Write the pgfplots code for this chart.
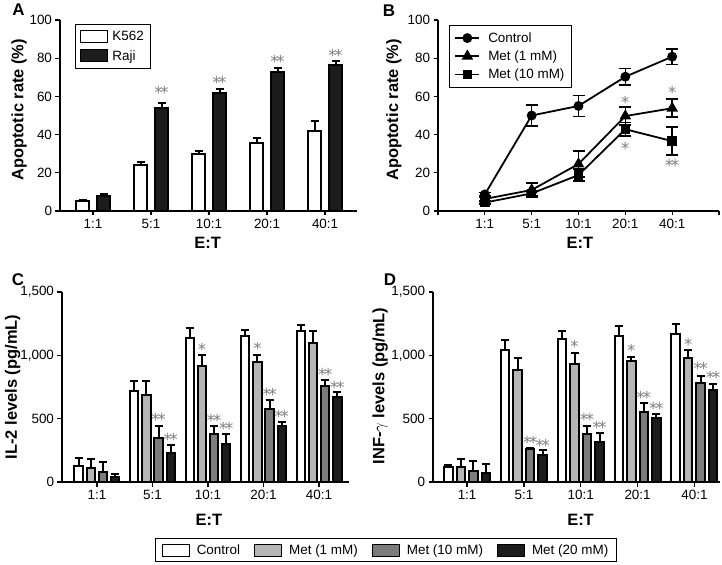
\documentclass[border=0pt]{standalone}
\usepackage{fontspec}
\setmainfont{Liberation Sans}
\newfontfamily\starfont{DejaVu Sans}
\usepackage{pgfplots}
\pgfplotsset{compat=1.18}

\definecolor{metA}{HTML}{B5B5B5}
\definecolor{metB}{HTML}{7C7C7C}
\definecolor{metC}{HTML}{1C1C1C}
\definecolor{stargray}{HTML}{7E7E7E}

\newcommand{\tk}{\fontsize{13.5}{16}\selectfont}
\newcommand{\lb}{\fontsize{16.5}{19}\selectfont\bfseries}
\newcommand{\dd}{*\kern-2.2bp*}

\pgfplotsset{
  panel/.style={
    scale only axis, clip=false,
    axis lines=left,
    axis line style={-, line width=1.5bp, black},
    tick align=outside,
    major tick length=4.5bp,
    tick style={black, line width=1.3bp},
    tick label style={font=\tk},
    /pgf/number format/assume math mode=true,
    label style={font=\lb},
  },
  barplot/.style={ybar, bar shift=0pt, draw=black, line width=2bp,
    error bars/y dir=plus, error bars/y explicit,
    error bars/error bar style={line width=2bp, black},
    error bars/error mark options={rotate=90, mark size=4bp, line width=2bp, black}},
  linplot/.style={black, line width=1.8bp,
    error bars/y dir=both, error bars/y explicit,
    error bars/error bar style={line width=1.6bp, black},
    error bars/error mark options={rotate=90, mark size=6bp, line width=1.6bp, black}},
  swatch/.style={legend image code/.code={\draw[##1, line width=1bp] (0bp,-6bp) rectangle (27bp,6bp);}},
  lineleg/.style={legend image code/.code={\draw[mark repeat=2,mark phase=2,##1] plot coordinates {(0bp,0bp) (12bp,0bp) (24bp,0bp)};}},
}
\tikzset{sig/.style={font=\starfont\fontsize{16.5}{17}\selectfont, text=stargray, anchor=base, yshift=-9bp, inner sep=0pt}}

\begin{document}
\begin{tikzpicture}

% ---- A: apoptotic rate, bars
\begin{axis}[panel, at={(60bp,354bp)}, anchor=south west, width=297bp, height=191bp,
  xmin=-0.57, xmax=4.55, ymin=0, ymax=100,
  xtick={0,...,4}, xticklabels={1:1,5:1,10:1,20:1,40:1},
  ytick={0,20,...,100},
  xlabel={E:T}, ylabel={Apoptotic rate (\%)},
  xlabel style={at={(axis description cs:0.497,-0.165)}, anchor=center},
  ylabel style={at={(axis description cs:-0.138,0.53)}, anchor=center},
  legend style={at={(axis description cs:0.05,0.979)}, anchor=north west,
    draw=black, line width=1bp, font=\tk, inner xsep=5bp, inner ysep=5bp,
    cells={anchor=west}, row sep=4bp,
    /tikz/every odd column/.append style={column sep=2bp}},
]
\addplot[barplot, swatch, fill=white, bar width=0.23] coordinates {
  (-0.18,5) +- (0,1)
  (0.82,24) +- (0,1.5)
  (1.82,30) +- (0,1.5)
  (2.82,35.5) +- (0,2.5)
  (3.82,42) +- (0,5)
};
\addlegendentry{K562}
\addplot[barplot, swatch, fill=metC, bar width=0.23] coordinates {
  (0.18,8) +- (0,1)
  (1.18,54) +- (0,2.7)
  (2.18,62) +- (0,2)
  (3.18,73) +- (0,2)
  (4.18,76.5) +- (0,1.8)
};
\addlegendentry{Raji}
\node[sig] at (axis cs:1.18,63.4) {\dd};
\node[sig] at (axis cs:2.18,69) {\dd};
\node[sig] at (axis cs:3.18,79.6) {\dd};
\node[sig] at (axis cs:4.18,83) {\dd};
\end{axis}

% ---- B: apoptotic rate, lines
\begin{axis}[panel, at={(438bp,354bp)}, anchor=south west, width=281bp, height=191bp,
  xmin=-1, xmax=5, ymin=0, ymax=100,
  xtick={-1,...,5}, xticklabels={,1:1,5:1,10:1,20:1,40:1,},
  ytick={0,20,...,100},
  xlabel={E:T}, ylabel={Apoptotic rate (\%)},
  xlabel style={at={(axis description cs:0.505,-0.165)}, anchor=center},
  ylabel style={at={(axis description cs:-0.157,0.53)}, anchor=center},
  lineleg,
  legend style={at={(axis description cs:0.039,0.974)}, anchor=north west,
    draw=black, line width=1bp, font=\tk, inner xsep=5bp, inner ysep=5bp,
    cells={anchor=west}, row sep=3bp,
    /tikz/every odd column/.append style={column sep=6bp}},
]
\addplot[linplot, mark=*, mark size=4bp] coordinates {
  (0,8.7) +- (0,1)
  (1,50) +- (0,5.4)
  (2,55) +- (0,5.5)
  (3,70.3) +- (0,4.3)
  (4,80.8) +- (0,4)
};
\addlegendentry{Control}
\addplot[linplot, mark=triangle*, mark size=5bp] coordinates {
  (0,6.3) +- (0,0.8)
  (1,11) +- (0,3.8)
  (2,24.6) +- (0,6.7)
  (3,49.7) +- (0,4.6)
  (4,53.8) +- (0,4.7)
};
\addlegendentry{Met (1 mM)}
\addplot[linplot, mark=square*, mark size=3.8bp] coordinates {
  (0,4.4) +- (0,0.8)
  (1,9.2) +- (0,1.5)
  (2,18.8) +- (0,3.2)
  (3,42.8) +- (0,3.5)
  (4,36.6) +- (0,7.4)
};
\addlegendentry{Met (10 mM)}
\node[sig] at (axis cs:3,58.6) {*};
\node[sig] at (axis cs:3,34.2) {*};
\node[sig] at (axis cs:4,63.4) {*};
\node[sig] at (axis cs:4,25.5) {\dd};
\end{axis}

% ---- C: IL-2
\begin{axis}[panel, at={(62bp,83bp)}, anchor=south west, width=287bp, height=190bp,
  xmin=-0.63, xmax=4.54, ymin=0, ymax=1500,
  xtick={0,...,4}, xticklabels={1:1,5:1,10:1,20:1,40:1},
  ytick={0,500,1000,1500}, /pgf/number format/1000 sep={,},
  xlabel={E:T}, ylabel={IL-2 levels (pg/mL)},
  xlabel style={at={(axis description cs:0.512,-0.2)}, anchor=center},
  ylabel style={at={(axis description cs:-0.172,0.5)}, anchor=center},
  legend columns=4,
  legend style={at={(axis description cs:1.129,-0.358)}, anchor=center,
    draw=black, line width=1bp, font=\tk, inner xsep=6bp, inner ysep=4bp,
    /tikz/every odd column/.append style={column sep=5bp},
    /tikz/every even column/.append style={column sep=12bp}},
]
\addplot[barplot, swatch, fill=white, bar width=0.15] coordinates {
  (-0.33,130) +- (0,60)
  (0.67,720) +- (0,80)
  (1.67,1135) +- (0,80)
  (2.67,1150) +- (0,50)
  (3.67,1195) +- (0,45)
};
\addlegendentry{Control}
\addplot[barplot, swatch, fill=metA, bar width=0.15] coordinates {
  (-0.11,110) +- (0,70)
  (0.89,690) +- (0,110)
  (1.89,915) +- (0,85)
  (2.89,945) +- (0,60)
  (3.89,1095) +- (0,100)
};
\addlegendentry{Met (1 mM)}
\addplot[barplot, swatch, fill=metB, bar width=0.15] coordinates {
  (0.11,80) +- (0,80)
  (1.11,345) +- (0,100)
  (2.11,380) +- (0,60)
  (3.11,580) +- (0,70)
  (4.11,760) +- (0,45)
};
\addlegendentry{Met (10 mM)}
\addplot[barplot, swatch, fill=metC, bar width=0.15] coordinates {
  (0.33,40) +- (0,20)
  (1.33,225) +- (0,70)
  (2.33,300) +- (0,80)
  (3.33,445) +- (0,30)
  (4.33,670) +- (0,40)
};
\addlegendentry{Met (20 mM)}
\node[sig] at (axis cs:1.89,1073) {*};
\node[sig] at (axis cs:2.89,1075) {*};
\node[sig] at (axis cs:1.11,521) {\dd};
\node[sig] at (axis cs:1.33,363) {\dd};
\node[sig] at (axis cs:2.11,511) {\dd};
\node[sig] at (axis cs:2.33,445) {\dd};
\node[sig] at (axis cs:3.11,718) {\dd};
\node[sig] at (axis cs:3.33,542) {\dd};
\node[sig] at (axis cs:4.11,871) {\dd};
\node[sig] at (axis cs:4.33,771) {\dd};
\end{axis}

% ---- D: INF-gamma
\begin{axis}[panel, at={(433bp,83bp)}, anchor=south west, width=287bp, height=190bp,
  xmin=-0.6, xmax=4.45, ymin=0, ymax=1500,
  xtick={0,...,4}, xticklabels={1:1,5:1,10:1,20:1,40:1},
  ytick={0,500,1000,1500}, /pgf/number format/1000 sep={,},
  xlabel={E:T}, ylabel={INF-$\gamma$ levels (pg/mL)},
  xlabel style={at={(axis description cs:0.514,-0.2)}, anchor=center},
  ylabel style={at={(axis description cs:-0.184,0.505)}, anchor=center},
]
\addplot[barplot, fill=white, bar width=0.15] coordinates {
  (-0.33,120) +- (0,15)
  (0.67,1040) +- (0,80)
  (1.67,1125) +- (0,70)
  (2.67,1150) +- (0,85)
  (3.67,1170) +- (0,80)
};
\addplot[barplot, fill=metA, bar width=0.15] coordinates {
  (-0.11,115) +- (0,65)
  (0.89,885) +- (0,95)
  (1.89,935) +- (0,85)
  (2.89,955) +- (0,35)
  (3.89,980) +- (0,65)
};
\addplot[barplot, fill=metB, bar width=0.15] coordinates {
  (0.11,85) +- (0,80)
  (1.11,260) +- (0,10)
  (2.11,380) +- (0,60)
  (3.11,550) +- (0,70)
  (4.11,780) +- (0,60)
};
\addplot[barplot, fill=metC, bar width=0.15] coordinates {
  (0.33,70) +- (0,70)
  (1.33,210) +- (0,40)
  (2.33,315) +- (0,70)
  (3.33,505) +- (0,30)
  (4.33,725) +- (0,45)
};
\node[sig] at (axis cs:1.11,337) {\dd};
\node[sig] at (axis cs:1.33,313) {\dd};
\node[sig] at (axis cs:1.89,1095) {*};
\node[sig] at (axis cs:2.11,516) {\dd};
\node[sig] at (axis cs:2.33,455) {\dd};
\node[sig] at (axis cs:2.89,1060) {*};
\node[sig] at (axis cs:3.11,687) {\dd};
\node[sig] at (axis cs:3.33,605) {\dd};
\node[sig] at (axis cs:3.89,1113) {*};
\node[sig] at (axis cs:4.11,916) {\dd};
\node[sig] at (axis cs:4.33,845) {\dd};
\end{axis}

% panel letters
\node[font=\fontsize{17}{17}\selectfont\bfseries] at (18.5bp,555bp) {A};
\node[font=\fontsize{17}{17}\selectfont\bfseries] at (389bp,554.5bp) {B};
\node[font=\fontsize{17}{17}\selectfont\bfseries] at (18bp,285bp) {C};
\node[font=\fontsize{17}{17}\selectfont\bfseries] at (390bp,285.5bp) {D};

\pgfresetboundingbox
\path (0bp,0bp) rectangle (722bp,565bp);
\end{tikzpicture}
\end{document}
